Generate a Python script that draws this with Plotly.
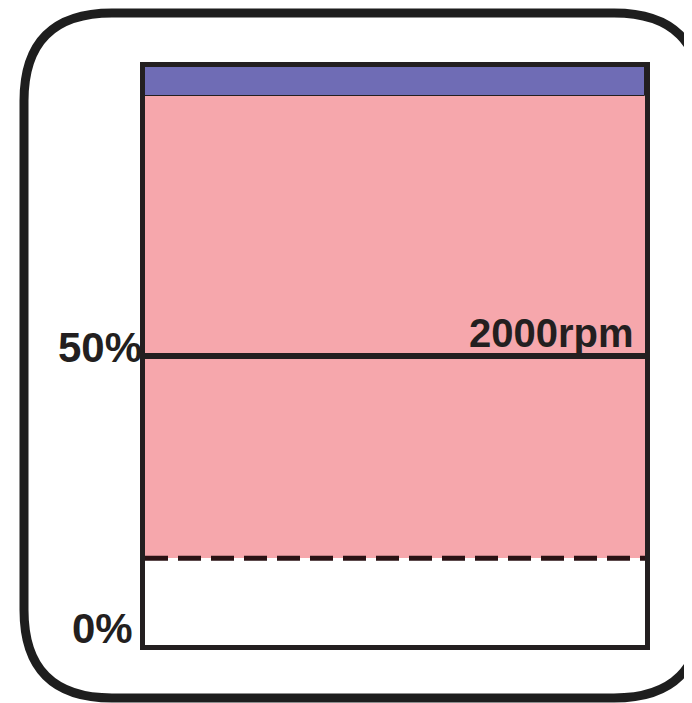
import plotly.graph_objects as go

# Datos (porcentaje de carga)
zonas_nombre = ["zona rosa", "zona azul"]
zonas_base = [15, 95]
zonas_alto = [80, 5]
zonas_color = ["#F6A7AC", "#6F6CB5"]

nivel_discontinuo = 15
nivel_rpm = 50
etiqueta_rpm = "2000rpm"

ticks_val = [0, 50]
ticks_txt = ["0%", "50%"]

OFF = 8  # margen por defecto del <body> en la página
W, H = 692 - OFF, 703 - OFF
L, R, T, B = 145 - OFF, 645 - OFF, 67 - OFF, 645 - OFF  # área de datos en píxeles
NEGRO = "#231F20"


def px_a_paper(x, y):
    x, y = x - OFF, y - OFF
    return (x - L) / (R - L), (B - y) / (B - T)


def marco_redondeado(x0, y0, x1, y1, r):
    # Contorno redondeado en coordenadas de papel
    pts = [
        ("M", x0 + r, y0), ("L", x1 - r, y0), ("Q", x1, y0, x1, y0 + r),
        ("L", x1, y1 - r), ("Q", x1, y1, x1 - r, y1), ("L", x0 + r, y1),
        ("Q", x0, y1, x0, y1 - r), ("L", x0, y0 + r), ("Q", x0, y0, x0 + r, y0),
    ]
    partes = []
    for p in pts:
        cmd, coords = p[0], p[1:]
        xy = []
        for i in range(0, len(coords), 2):
            a, b = px_a_paper(coords[i], coords[i + 1])
            xy.append(f"{a:.4f},{b:.4f}")
        partes.append(cmd + " ".join(xy))
    return " ".join(partes) + " Z"


fig = go.Figure()

for nombre, base, alto, color in zip(zonas_nombre, zonas_base, zonas_alto, zonas_color):
    fig.add_trace(go.Bar(
        x=[0], y=[alto], base=[base], width=[1], name=nombre,
        marker=dict(color=color, line=dict(color=NEGRO, width=1 if nombre == "zona azul" else 0)),
        showlegend=False, hoverinfo="skip",
    ))

# Línea discontinua inferior
fig.add_trace(go.Scatter(
    x=[-0.5, 0.5], y=[nivel_discontinuo] * 2, mode="lines",
    line=dict(color="#2A1214", width=5, dash="23px,10px"),
    showlegend=False, hoverinfo="skip",
))

# Línea de 2000 rpm
fig.add_trace(go.Scatter(
    x=[-0.5, 0.5], y=[nivel_rpm] * 2, mode="lines",
    line=dict(color=NEGRO, width=6),
    showlegend=False, hoverinfo="skip",
))

fuente = dict(family="Liberation Sans, Arial, sans-serif", size=42, color=NEGRO, weight="bold")

fig.add_annotation(x=0.5, y=nivel_rpm, xref="x", yref="y", text=etiqueta_rpm,
                   showarrow=False, xanchor="right", yanchor="bottom",
                   xshift=-9, yshift=-1, font=dict(fuente, size=40))

for v, t in zip(ticks_val, ticks_txt):
    fig.add_annotation(x=0, y=v, xref="paper", yref="y", text=t,
                       showarrow=False, xanchor="right", yanchor="middle",
                       xshift=-1 if v else -10, yshift=9 if v else 17, font=fuente)

fig.add_shape(type="path", xref="paper", yref="paper",
              path=marco_redondeado(24, 13, 702, 698, 88),
              line=dict(color="#1E1E1E", width=9))

fig.update_layout(
    width=W, height=H,
    margin=dict(l=L, r=W - R, t=T, b=H - B),
    plot_bgcolor="white", paper_bgcolor="white",
    barmode="overlay", bargap=0,
    xaxis=dict(range=[-0.5, 0.5], showgrid=False, zeroline=False, showticklabels=False,
               showline=True, mirror=True, linecolor=NEGRO, linewidth=5, fixedrange=True),
    yaxis=dict(range=[0, 100], showgrid=False, zeroline=False, showticklabels=False,
               showline=True, mirror=True, linecolor=NEGRO, linewidth=5, fixedrange=True),
)

fig.write_html("out.html")
